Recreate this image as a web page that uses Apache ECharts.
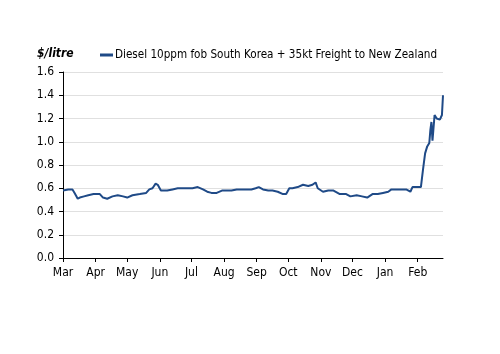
<!DOCTYPE html>
<html>
<head>
<meta charset="utf-8">
<script src="https://cdn.jsdelivr.net/npm/echarts@6/dist/echarts.min.js"></script>
<style>
html,body{margin:0;padding:0;background:#fff;}
#main{width:500px;height:354px;}
</style>
</head>
<body>
<div id="main"></div>
<script>
var seriesName = 'Diesel 10ppm fob South Korea + 35kt Freight to New Zealand';
var dates = ['2021-03-01','2021-03-06','2021-03-10','2021-03-12','2021-03-15','2021-03-17','2021-03-21','2021-03-25','2021-03-30',
    '2021-04-05','2021-04-08','2021-04-12','2021-04-17','2021-04-22','2021-04-27',
    '2021-05-01','2021-05-06','2021-05-13','2021-05-19','2021-05-22','2021-05-25','2021-05-28','2021-05-30',
    '2021-06-02','2021-06-08','2021-06-13','2021-06-18','2021-06-23','2021-06-28',
    '2021-07-02','2021-07-07','2021-07-12','2021-07-16','2021-07-20','2021-07-25','2021-07-30',
    '2021-08-04','2021-08-08','2021-08-13','2021-08-19','2021-08-24','2021-08-27','2021-08-31',
    '2021-09-03','2021-09-07','2021-09-12','2021-09-16','2021-09-21','2021-09-26','2021-09-29',
    '2021-10-02','2021-10-05','2021-10-10','2021-10-15','2021-10-20','2021-10-24','2021-10-27','2021-10-29',
    '2021-11-03','2021-11-08','2021-11-13','2021-11-19','2021-11-25','2021-11-29',
    '2021-12-05','2021-12-10','2021-12-15','2021-12-20','2021-12-25','2021-12-30',
    '2022-01-04','2022-01-07','2022-01-12','2022-01-17','2022-01-21','2022-01-25','2022-01-27',
    '2022-02-01','2022-02-04','2022-02-06','2022-02-08','2022-02-10','2022-02-12','2022-02-13','2022-02-14','2022-02-15',
    '2022-02-17','2022-02-19','2022-02-22','2022-02-24','2022-02-25'];
var prices = [0.58,0.59,0.59,0.56,0.51,0.52,0.53,0.54,0.55,
    0.55,0.52,0.51,0.53,0.54,0.53,
    0.52,0.54,0.55,0.56,0.59,0.60,0.64,0.63,
    0.58,0.58,0.59,0.60,0.60,0.60,
    0.60,0.61,0.59,0.57,0.56,0.56,0.58,
    0.58,0.58,0.59,0.59,0.59,0.59,0.60,
    0.61,0.59,0.58,0.58,0.57,0.55,0.55,
    0.60,0.60,0.61,0.63,0.62,0.63,0.65,0.60,
    0.57,0.58,0.58,0.55,0.55,0.53,
    0.54,0.53,0.52,0.55,0.55,0.56,
    0.57,0.59,0.59,0.59,0.59,0.57,0.61,
    0.61,0.61,0.76,0.90,0.96,0.99,1.10,1.17,1.01,
    1.23,1.20,1.19,1.23,1.40];
var monthNames = ['Jan','Feb','Mar','Apr','May','Jun','Jul','Aug','Sep','Oct','Nov','Dec'];

var data = [];
for (var i = 0; i < dates.length; i++) {
    data.push([dates[i], prices[i]]);
}

var font = 'DejaVu Sans Condensed';
var myChart = echarts.init(document.getElementById('main'));
var option = {
    animation: false,
    textStyle: {fontFamily: font},
    title: {
        text: '$/litre',
        left: 32, top: 43,
        textStyle: {fontFamily: font, fontSize: 12, fontWeight: 'bold', fontStyle: 'italic', color: '#000'}
    },
    legend: {
        left: 95, top: 44,
        itemWidth: 13, itemHeight: 3, itemGap: 4,
        icon: 'rect',
        textStyle: {fontFamily: font, fontSize: 11.6, color: '#000', padding: [0,0,0,-3]},
        data: [seriesName]
    },
    grid: {left: 63, right: 57, top: 72, bottom: 96, containLabel: false},
    xAxis: {
        type: 'time',
        min: '2021-03-01',
        max: '2022-02-25',
        minInterval: 28 * 86400000,
        maxInterval: 31 * 86400000,
        axisLine: {lineStyle: {color: '#000', width: 1}},
        axisTick: {show: true, length: 4, lineStyle: {color: '#000'}},
        splitLine: {show: false},
        axisLabel: {
            color: '#000', fontSize: 12, fontFamily: font, margin: 9,
            formatter: function (v) { return monthNames[new Date(v).getMonth()]; }
        }
    },
    yAxis: {
        type: 'value',
        min: 0, max: 1.6, interval: 0.2,
        axisLine: {show: true, lineStyle: {color: '#000', width: 1}},
        axisTick: {show: true, length: 4, lineStyle: {color: '#000'}},
        splitLine: {lineStyle: {color: '#e0e0e0'}},
        axisLabel: {
            color: '#000', fontSize: 12, fontFamily: font, margin: 9,
            formatter: function (v) { return v.toFixed(1); }
        }
    },
    series: [{
        name: seriesName,
        type: 'line',
        data: data,
        showSymbol: false,
        symbol: 'none',
        lineStyle: {color: '#1f4a87', width: 2},
        itemStyle: {color: '#1f4a87'}
    }]
};
myChart.setOption(option);
</script>
</body>
</html>
